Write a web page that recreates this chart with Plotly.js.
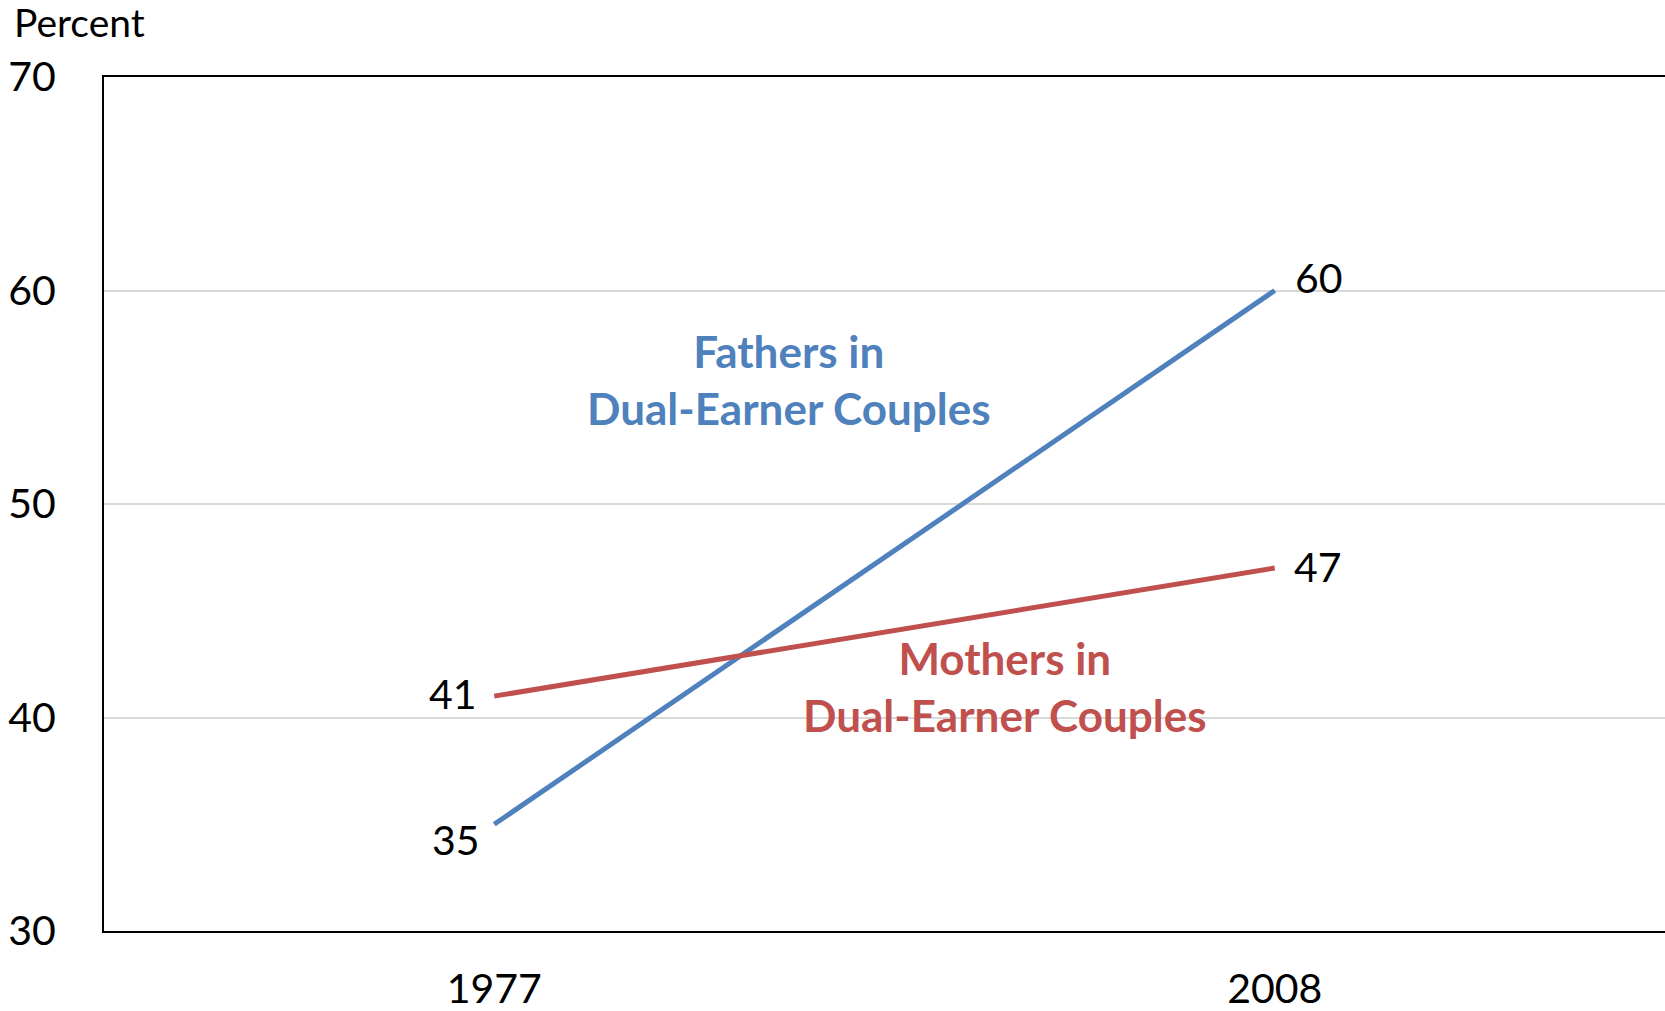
<!DOCTYPE html>
<html>
<head>
<meta charset="utf-8">
<script src="https://cdn.plot.ly/plotly-3.0.1.min.js"></script>
<style>
  html, body { margin: 0; padding: 0; background: #fff; }
  #chart { width: 1665px; height: 1011px; }
</style>
</head>
<body>
<div id="chart"></div>
<script>
"use strict";

var years = ["1977", "2008"];
var fathers = [35, 60];
var mothers = [41, 47];
var yTicks = [30, 40, 50, 60, 70];

var blue = "#4F81BD";
var red = "#C0504D";
var font = "Lato, 'Open Sans', sans-serif";

var traces = [
    {
        x: years, y: fathers, type: "scatter", mode: "lines",
        line: {color: blue, width: 5}, hoverinfo: "none"
    },
    {
        x: years, y: mothers, type: "scatter", mode: "lines",
        line: {color: red, width: 5}, hoverinfo: "none"
    }
];

// value labels next to line ends (x is the category index)
function valueLabel(i, series, xs, ys){
    return {
        x: i, y: series[i], xref: "x", yref: "y", text: String(series[i]),
        showarrow: false, xshift: xs, yshift: ys,
        font: {family: font, size: 41, color: "#000"}
    };
}

var annotations = [
    valueLabel(0, fathers, -38, -15),
    valueLabel(1, fathers, 44, 13),
    valueLabel(0, mothers, -41, 3),
    valueLabel(1, mothers, 43, 2),
    {
        x: -0.059, y: 1.064, xref: "paper", yref: "paper",
        xanchor: "left", yanchor: "middle", text: "Percent",
        showarrow: false, font: {family: font, size: 39, color: "#000"}
    },
    {
        x: 0.439, y: 0.646, xref: "paper", yref: "paper",
        text: "<b>Fathers in<br>Dual-Earner Couples</b>", showarrow: false,
        font: {family: font, size: 44, color: blue}, align: "center"
    },
    {
        x: 0.577, y: 0.22, xref: "paper", yref: "paper",
        text: "<b>Mothers in<br>Dual-Earner Couples</b>", showarrow: false,
        font: {family: font, size: 44, color: red}, align: "center"
    }
];

var layout = {
    width: 1665,
    height: 1011,
    margin: {l: 104, r: 0, t: 77, b: 80},
    paper_bgcolor: "#fff",
    plot_bgcolor: "#fff",
    showlegend: false,
    font: {family: font, size: 41, color: "#000"},
    xaxis: {
        type: "category",
        range: [-0.5, 1.5],
        showgrid: false,
        zeroline: false,
        showline: true,
        mirror: true,
        linecolor: "#000",
        linewidth: 2,
        ticks: "",
        ticklabelstandoff: 21,
        tickfont: {family: font, size: 41, color: "#000"}
    },
    yaxis: {
        range: [30, 70],
        tickvals: yTicks,
        showgrid: true,
        gridcolor: "#D9D9D9",
        gridwidth: 2,
        zeroline: false,
        showline: true,
        linecolor: "#000",
        linewidth: 2,
        ticks: "",
        ticklabelstandoff: 38,
        tickfont: {family: font, size: 41, color: "#000"}
    },
    annotations: annotations
};

Plotly.newPlot("chart", traces, layout, {staticPlot: true});
</script>
</body>
</html>
